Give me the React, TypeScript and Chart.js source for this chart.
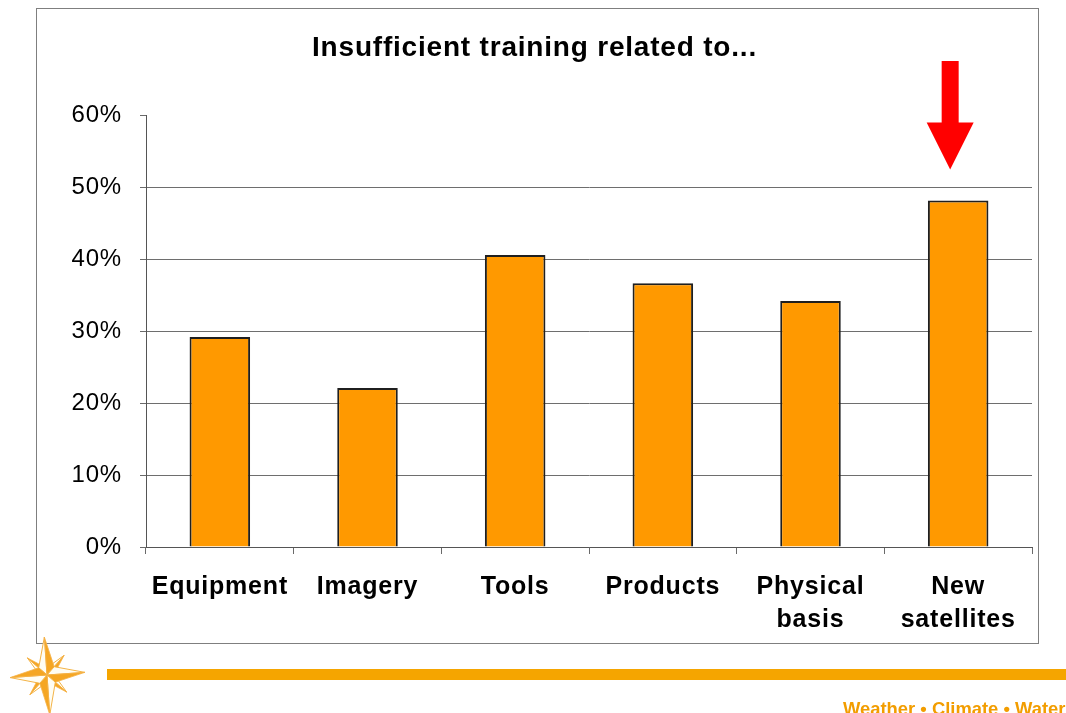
import React, { useEffect, useRef } from "react";
import { Chart, registerables } from "chart.js";

Chart.register(...registerables);

const CATEGORIES: string[][] = [
  ["Equipment"],
  ["Imagery"],
  ["Tools"],
  ["Products"],
  ["Physical", "basis"],
  ["New", "satellites"],
];
const VALUES: number[] = [29.2, 22.1, 40.6, 36.7, 34.2, 48.2];
const Y_MIN = 0;
const Y_MAX = 60;
const Y_STEP = 10;
const TITLE = "Insufficient training related to...";
const FOOTER_TEXT = "Weather \u2022 Climate \u2022 Water";
// arrow annotation pointing at the last category (values in % on the y scale)
const ARROW_CATEGORY = 5;
const ARROW_TIP_VALUE = 52.5;
const ARROW_TAIL_VALUE = 67.6;

const FONT = '"Liberation Sans", Arial, Helvetica, sans-serif';

const spacingPlugin = {
  id: "spacingPlugin",
  beforeUpdate(chart: any) {
    chart.ctx.letterSpacing = "0.8px";
  },
  beforeDraw(chart: any) {
    chart.ctx.letterSpacing = "0.8px";
  },
};

const arrowPlugin = {
  id: "arrowPlugin",
  afterDatasetsDraw(chart: any) {
    const { ctx, scales } = chart;
    const x = scales.x.getPixelForValue(ARROW_CATEGORY) - 8;
    const tip = scales.y.getPixelForValue(ARROW_TIP_VALUE);
    const tail = scales.y.getPixelForValue(ARROW_TAIL_VALUE);
    const shaftW = 17;
    const headW = 47;
    const headH = 47;
    ctx.save();
    ctx.fillStyle = "#FF0000";
    ctx.beginPath();
    ctx.moveTo(x - shaftW / 2, tail);
    ctx.lineTo(x + shaftW / 2, tail);
    ctx.lineTo(x + shaftW / 2, tip - headH);
    ctx.lineTo(x + headW / 2, tip - headH);
    ctx.lineTo(x, tip);
    ctx.lineTo(x - headW / 2, tip - headH);
    ctx.lineTo(x - shaftW / 2, tip - headH);
    ctx.closePath();
    ctx.fill();
    ctx.restore();
  },
};

function Star() {
  const cx = 47;
  const cy = 675;
  const rot = -4;
  const arms = [
    { a: -45, r: 26, w: 7 },
    { a: 45, r: 26, w: 7 },
    { a: 135, r: 26, w: 7 },
    { a: -135, r: 26, w: 7 },
    { a: -90, r: 38, w: 11 },
    { a: 0, r: 38, w: 11 },
    { a: 90, r: 40, w: 11 },
    { a: 180, r: 37, w: 11 },
  ];
  const polys: React.ReactNode[] = [];
  arms.forEach((arm, i) => {
    const rad = ((arm.a + rot) * Math.PI) / 180;
    const tx = cx + arm.r * Math.cos(rad);
    const ty = cy + arm.r * Math.sin(rad);
    const s1x = cx + arm.w * Math.cos(rad + Math.PI / 4);
    const s1y = cy + arm.w * Math.sin(rad + Math.PI / 4);
    const s2x = cx + arm.w * Math.cos(rad - Math.PI / 4);
    const s2y = cy + arm.w * Math.sin(rad - Math.PI / 4);
    polys.push(
      <polygon
        key={"b" + i}
        points={`${cx},${cy} ${tx},${ty} ${s2x},${s2y}`}
        fill="#FFFDF3"
        stroke="#F3B346"
        strokeWidth={1}
        strokeLinejoin="round"
      />
    );
    polys.push(
      <polygon
        key={"a" + i}
        points={`${cx},${cy} ${tx},${ty} ${s1x},${s1y}`}
        fill="#F5A623"
        stroke="#F5B34a"
        strokeWidth={0.8}
        strokeLinejoin="round"
      />
    );
  });
  return (
    <svg
      width={1066}
      height={713}
      style={{ position: "absolute", left: 0, top: 0, pointerEvents: "none" }}
    >
      {polys}
    </svg>
  );
}

export default function App() {
  const canvasRef = useRef<HTMLCanvasElement | null>(null);

  useEffect(() => {
    if (!canvasRef.current) return;
    const chart = new Chart(canvasRef.current, {
      type: "bar",
      data: {
        labels: CATEGORIES,
        datasets: [
          {
            data: VALUES,
            backgroundColor: "#FF9900",
            borderColor: "#1f1f1f",
            borderWidth: 2,
            borderSkipped: "bottom",
            categoryPercentage: 1,
            barPercentage: 0.41,
          },
        ],
      },
      options: {
        animation: false,
        responsive: false,
        maintainAspectRatio: false,
        layout: { padding: { left: 0, right: 6, top: 0, bottom: 0 } },
        plugins: {
          legend: { display: false },
          tooltip: { enabled: false },
          title: {
            display: true,
            text: TITLE,
            color: "#000",
            font: { family: FONT, size: 28, weight: "bold" },
            padding: { top: 22, bottom: 51 },
          },
        },
        scales: {
          x: {
            grid: {
              display: true,
              drawOnChartArea: false,
              drawTicks: true,
              tickLength: 7,
              tickColor: "#6a6a6a",
              offset: true,
            },
            border: { display: true, color: "#555", width: 1 },
            ticks: {
              color: "#000",
              font: { family: FONT, size: 25, weight: "bold", lineHeight: 1.32 },
              padding: 17,
              maxRotation: 0,
              autoSkip: false,
            },
            afterFit(scale: any) {
              scale.height = 96;
            },
          },
          y: {
            min: Y_MIN,
            max: Y_MAX,
            grid: {
              color: (ctx: any) =>
                ctx.tick && ctx.tick.value === Y_MAX ? "rgba(0,0,0,0)" : "#6e6e6e",
              lineWidth: 1,
              tickLength: 6,
              tickColor: "#6a6a6a",
            },
            border: { display: true, color: "#555", width: 1 },
            ticks: {
              stepSize: Y_STEP,
              color: "#000",
              font: { family: FONT, size: 24 },
              padding: 18,
              callback: (v: any) => v + "%",
            },
            afterFit(scale: any) {
              scale.width = 109;
            },
          },
        },
      },
      plugins: [spacingPlugin, arrowPlugin],
    });
    return () => chart.destroy();
  }, []);

  return (
    <div
      style={{
        position: "fixed",
        left: 0,
        top: 0,
        width: 1066,
        height: 713,
        overflow: "hidden",
        background: "#fff",
      }}
    >
      <div
        style={{
          position: "absolute",
          left: 36,
          top: 8,
          width: 1003,
          height: 636,
          border: "1px solid #7f7f7f",
          boxSizing: "border-box",
        }}
      >
        <canvas
          ref={canvasRef}
          width={1001}
          height={634}
          style={{ display: "block", width: 1001, height: 634 }}
        />
      </div>
      <div
        style={{
          position: "absolute",
          left: 107,
          top: 669,
          width: 959,
          height: 11,
          background: "#F5A500",
        }}
      />
      <Star />
      <div
        style={{
          position: "absolute",
          left: 843,
          top: 698,
          whiteSpace: "nowrap",
          fontFamily: FONT,
          fontWeight: "bold",
          fontSize: 18.4,
          lineHeight: "22px",
          color: "#F29D00",
        }}
      >
        {FOOTER_TEXT}
      </div>
    </div>
  );
}
